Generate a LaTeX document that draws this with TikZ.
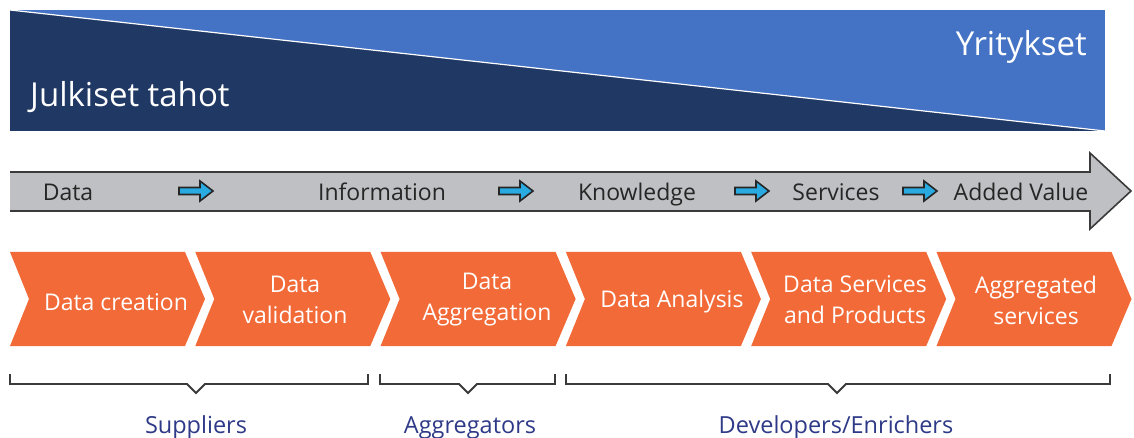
\documentclass[tikz,border=0pt]{standalone}
\usepackage{fontspec}
\setmainfont{Open Sans}
\newfontfamily\ubu{Open Sans}
\definecolor{navy}{HTML}{203864}
\definecolor{lblue}{HTML}{4472C4}
\definecolor{orng}{HTML}{F26A37}
\definecolor{agray}{HTML}{BFC0C4}
\definecolor{aline}{HTML}{3A3A3A}
\definecolor{txtdark}{HTML}{262626}
\definecolor{sky}{HTML}{29ABE2}
\definecolor{grp}{HTML}{2E3A87}
\tikzset{
  chev/.style={fill=orng},
  chevtxt/.style={text=white, font=\ubu\fontsize{23}{31}\selectfont, align=center},
  flowtxt/.style={text=txtdark, font=\ubu\fontsize{23}{26}\selectfont, anchor=base},
  grptxt/.style={text=grp, font=\ubu\fontsize{23.5}{26}\selectfont, anchor=base},
  brk/.style={draw=aline, line width=1.8pt},
  sarrow/.pic={\draw[fill=sky, draw=txtdark, line width=1.6pt, line join=miter]
     (0,-3.5) -- (21,-3.5) -- (21,-10) -- (34,0) -- (21,10) -- (21,3.5) -- (0,3.5) -- cycle;}
}
\begin{document}
\begin{tikzpicture}[x=1pt,y=-1pt]
\useasboundingbox (0,0) rectangle (1134,438);
% top panel
\fill[lblue] (10,10) rectangle (1105,131);
\fill[navy] (10,10) -- (1105,131) -- (10,131) -- cycle;
\draw[white, line width=1.2pt] (10,10) -- (1105,131);
\node[text=white, font=\fontsize{33}{38}\selectfont, anchor=base west, inner sep=0] (pub) at (30,107) {Julkiset tahot};
\node[text=white, font=\fontsize{33}{38}\selectfont, anchor=base east, inner sep=0] (ent) at (1087,56) {Yritykset};
% gray arrow
\fill[agray] (10,172) -- (1090,172) -- (1090,153) -- (1131,191) -- (1090,229) -- (1090,211) -- (10,211) -- cycle;
\draw[aline, line width=1.6pt, line join=miter] (10,172) -- (1090,172) -- (1090,153) -- (1131,191) -- (1090,229) -- (1090,211) -- (10,211);
\node[flowtxt] (d) at (68,201) {Data};
\node[flowtxt] (i) at (382,201) {Information};
\node[flowtxt] (k) at (637,201) {Knowledge};
\node[flowtxt] (s) at (836,201) {Services};
\node[flowtxt] (v) at (1021,201) {Added Value};
\pic at (179,191) {sarrow};
\pic at (499,191) {sarrow};
\pic at (735,191) {sarrow};
\pic at (903,191) {sarrow};
% chevrons
\foreach \i/\cx/\cy/\t in {0/116/302/{Data creation},1/295/300/{Data\\validation},2/487/300/{Data\\Aggregation},3/672/302/{Data Analysis},4/855/300/{Data Services\\and Products},5/1036/300/{Aggregated\\services}}{
  \pgfmathsetmacro{\xl}{10+185.3*\i}
  \fill[chev] (\xl,252) -- ({\xl+175},252) -- ({\xl+195},299) -- ({\xl+175},346) -- (\xl,346) -- ({\xl+19},299) -- cycle;
  \node[chevtxt] (c\i) at (\cx,\cy) {\t};
}
% brackets
\draw[brk] (10,374) -- (10,384) -- (187,384) -- (196,393) -- (205,384) -- (368,384) -- (368,374);
\draw[brk] (380,374) -- (380,384) -- (459,384) -- (468,393) -- (477,384) -- (555,384) -- (555,374);
\draw[brk] (566,374) -- (566,384) -- (828,384) -- (837,393) -- (846,384) -- (1110,384) -- (1110,374);
\node[grptxt] (g1) at (196,433) {Suppliers};
\node[grptxt] (g2) at (470,433) {Aggregators};
\node[grptxt] (g3) at (836,433) {Developers/Enrichers};
\end{tikzpicture}
\end{document}
